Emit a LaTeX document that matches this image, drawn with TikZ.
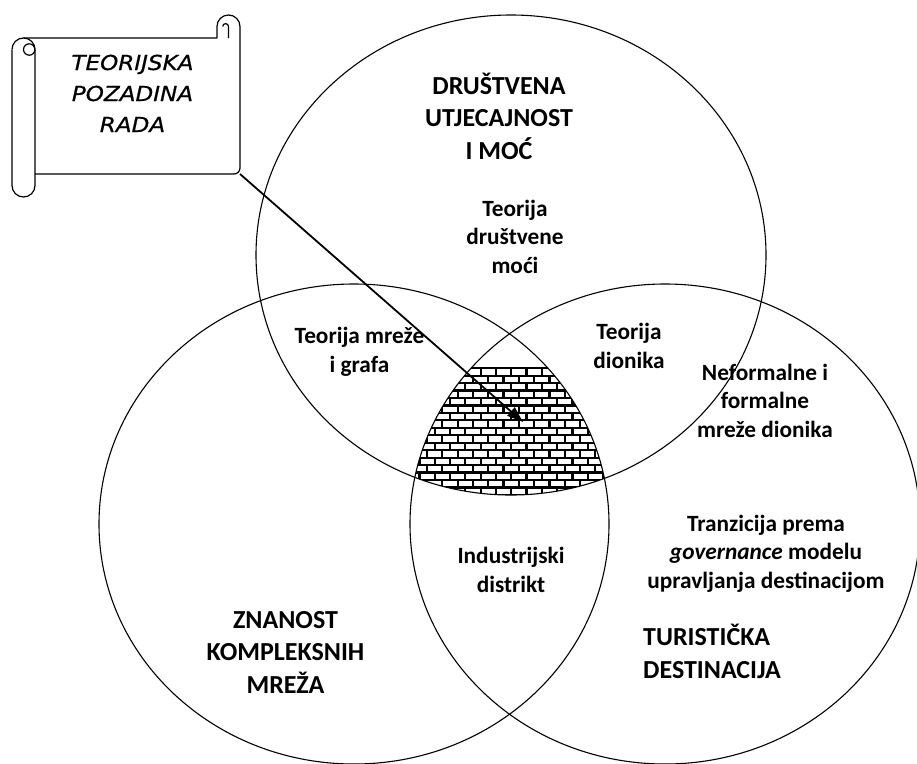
\documentclass[tikz,border=0pt]{standalone}
\usepackage{fontspec}
\setmainfont{Carlito}
\newfontfamily\scrollfont[FakeStretch=1.12,FakeBold=0.6]{DejaVu Sans}
\usetikzlibrary{arrows.meta}
\begin{document}
\begin{tikzpicture}[x=1pt,y=-1pt,
  venn/.style={draw=black,line width=1.1pt},
  brick/.style={draw=black,line width=2.2pt},
  scrollline/.style={draw=black,line width=1.2pt,line join=round},
  bigtxt/.style={font=\bfseries\fontsize{26}{32.3}\selectfont,align=center,inner sep=0pt},
  smalltxt/.style={font=\bfseries\fontsize{23.3}{28.5}\selectfont,align=center,inner sep=0pt},
  scrolltxt/.style={font=\scrollfont\itshape\fontsize{20.6}{31}\selectfont,align=center,inner sep=0pt},
  pointer/.style={line width=1.8pt,-{Triangle[length=16pt,width=11pt]}}]
\useasboundingbox (0,0) rectangle (917,763);

% brick pattern in the common intersection
\begin{scope}
\clip (511,255) ellipse [x radius=255, y radius=240];
\clip (354,524) ellipse [x radius=255, y radius=240];
\clip (665,524) ellipse [x radius=255, y radius=240];
\foreach \i in {0,...,18}{
  \pgfmathsetmacro\ya{368.2+\i*7.45}
  \pgfmathsetmacro\yb{\ya+7.45}
  \pgfmathsetmacro\off{mod(\i,2)*7.65}
  \draw[brick] (390,\ya) -- (640,\ya);
  \foreach \j in {0,...,15}{
    \pgfmathsetmacro\xx{388.8+\off+\j*15.3}
    \draw[brick] (\xx,\ya) -- (\xx,\yb);
  }
}
\end{scope}

% three sets
\draw[venn] (511,255) ellipse [x radius=255, y radius=240];
\draw[venn] (354,524) ellipse [x radius=255, y radius=240];
\draw[venn] (665,524) ellipse [x radius=255, y radius=240];

% scroll
\draw[scrollline] (12,49.5) -- (12,185.5) arc[start angle=180,end angle=0,radius=11.5] -- (35,49.5);
\draw[scrollline] (12,49.5) arc[start angle=180,end angle=360,radius=11.5];
\draw[scrollline] (29.2,49.5) circle[radius=5.7];
\draw[scrollline] (23.5,38) -- (217,38) -- (217,26.5) arc[start angle=180,end angle=360,radius=11.5]
   -- (240,168) arc[start angle=0,end angle=90,radius=6] -- (35,174);
\draw[scrollline] (228.5,38) -- (228.5,26.5) arc[start angle=0,end angle=-180,radius=2.9];
\node[scrolltxt,anchor=base] (tpr) at (132.5,132) {TEORIJSKA\\POZADINA\\RADA};

% arrow
\coordinate (src) at (240,174);
\coordinate (tip) at (523,422);
\draw[pointer] (src) -- (tip);

% labels
\node[bigtxt,anchor=base] (drus) at (499,159) {DRUŠTVENA\\UTJECAJNOST\\I MOĆ};
\node[smalltxt,anchor=base] (tdm) at (515,273) {Teorija\\društvene\\moći};
\node[smalltxt,anchor=base] (tmg) at (359.5,372) {Teorija mreže\\i grafa};
\node[smalltxt,anchor=base] (tdi) at (629,368) {Teorija\\dionika};
\node[smalltxt,anchor=base] (nfm) at (765,437) {Neformalne i\\formalne\\mreže dionika};
\node[smalltxt,anchor=base] (ind) at (511,592) {Industrijski\\distrikt};
\node[smalltxt,anchor=base] (tran) at (766,588) {Tranzicija prema\\\textit{governance} modelu\\upravljanja destinacijom};
\node[bigtxt,align=left,anchor=base west] (tur) at (643,678) {TURISTIČKA\\DESTINACIJA};
\node[bigtxt,anchor=base] (zn) at (285.5,693) {ZNANOST\\KOMPLEKSNIH\\MREŽA};
\end{tikzpicture}
\end{document}
